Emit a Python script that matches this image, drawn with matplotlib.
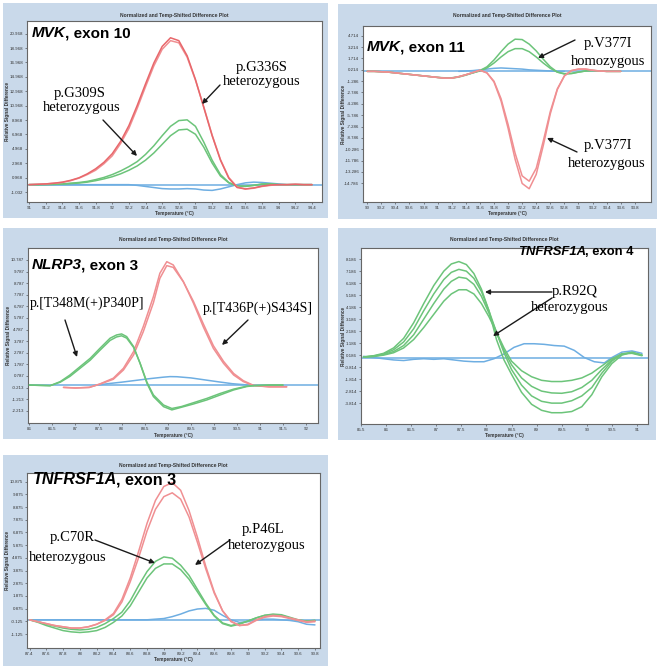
import matplotlib
matplotlib.use('Agg')
import matplotlib.pyplot as plt
from matplotlib.patches import Rectangle, FancyArrowPatch

# ---------------- data ----------------
# Panel 1: MVK exon 10
MVK10_T = [91.0, 91.1, 91.2, 91.3, 91.4, 91.5, 91.6, 91.7, 91.8, 91.9, 92.0, 92.1, 92.2, 92.3, 92.4, 92.5,
           92.6, 92.7, 92.8, 92.9, 93.0, 93.1, 93.2, 93.3, 93.4, 93.5, 93.6, 93.7, 93.8, 93.9, 94.0, 94.1,
           94.2, 94.3, 94.4]
MVK10_RED1 = [0.0, 0.05, 0.1, 0.2, 0.35, 0.6, 0.95, 1.5, 2.2, 3.1, 4.3, 6.0, 8.2, 11.0, 14.0, 16.9, 19.2, 20.4,
              20.0, 17.9, 14.6, 10.7, 6.8, 3.4, 0.9, -0.4, -0.6, -0.45, -0.2, -0.05, 0.0, 0.0, 0.05, 0.0, 0.0]
MVK10_RED2 = [0.0, 0.05, 0.1, 0.2, 0.3, 0.55, 0.9, 1.4, 2.0, 2.9, 4.0, 5.7, 7.8, 10.6, 13.6, 16.5, 18.8, 20.0,
              19.7, 17.7, 14.5, 10.8, 6.9, 3.5, 1.0, -0.3, -0.6, -0.5, -0.25, -0.1, 0.0, 0.0, 0.05, 0.0, 0.0]
MVK10_GREEN1 = [0.0, 0.0, 0.02, 0.05, 0.1, 0.2, 0.3, 0.45, 0.7, 1.0, 1.4, 1.9, 2.5, 3.2, 4.2, 5.4, 6.8, 8.1,
                8.9, 9.0, 8.1, 5.9, 3.4, 1.4, 0.3, -0.2, -0.2, -0.1, 0.1, 0.1, 0.0, 0.0, 0.0, 0.0, 0.0]
MVK10_GREEN2 = [0.0, 0.0, 0.02, 0.04, 0.08, 0.15, 0.22, 0.35, 0.55, 0.8, 1.1, 1.5, 2.0, 2.6, 3.4, 4.4, 5.6, 6.8,
                7.6, 7.7, 7.0, 5.2, 3.0, 1.2, 0.25, -0.2, -0.25, -0.1, 0.05, 0.1, 0.0, 0.0, 0.0, 0.0, 0.0]
MVK10_BLUE = [0.0, 0.0, 0.0, 0.0, 0.0, 0.0, 0.0, 0.0, 0.0, 0.0, 0.0, 0.0, 0.0, -0.1, -0.25, -0.4, -0.55, -0.6,
              -0.6, -0.55, -0.6, -0.75, -0.8, -0.6, -0.3, 0.0, 0.25, 0.35, 0.3, 0.2, 0.1, 0.0, 0.0, 0.0, 0.0]
MVK10_XTICKS = ['91', '91.2', '91.4', '91.6', '91.8', '92', '92.2', '92.4', '92.6', '92.8', '93', '93.2',
                '93.4', '93.6', '93.8', '94', '94.2', '94.4']
MVK10_YTICKS = ['20.968', '18.968', '16.968', '14.968', '12.968', '10.968', '8.968', '6.968', '4.968',
                '2.968', '0.968', '-1.032']

# Panel 2: MVK exon 11
MVK11_T = [90.0, 90.1, 90.2, 90.3, 90.4, 90.5, 90.6, 90.7, 90.8, 90.9, 91.0, 91.1, 91.2, 91.3, 91.4, 91.5,
           91.6, 91.7, 91.8, 91.9, 92.0, 92.1, 92.2, 92.3, 92.4, 92.5, 92.6, 92.7, 92.8, 92.9, 93.0, 93.1,
           93.2, 93.3, 93.4, 93.5, 93.6]
MVK11_GREEN1 = [0, 0, -0.05, -0.1, -0.2, -0.3, -0.4, -0.5, -0.6, -0.7, -0.8, -0.9, -0.9, -0.75, -0.5, -0.2,
                0.1, 0.6, 1.5, 2.6, 3.6, 4.25, 4.2, 3.6, 2.7, 1.6, 0.6, -0.1, -0.35, -0.3, -0.1, 0.05, 0.1,
                0.05, 0, 0, 0]
MVK11_GREEN2 = [0, 0, -0.05, -0.1, -0.2, -0.3, -0.4, -0.5, -0.6, -0.7, -0.8, -0.85, -0.85, -0.7, -0.45, -0.2,
                0.05, 0.45, 1.1, 1.9, 2.6, 3.0, 3.0, 2.6, 1.9, 1.1, 0.4, -0.1, -0.3, -0.25, -0.1, 0.05, 0.1,
                0.05, 0, 0, 0]
MVK11_RED1 = [0, 0, -0.05, -0.1, -0.2, -0.3, -0.4, -0.5, -0.6, -0.7, -0.8, -0.9, -0.9, -0.7, -0.45, -0.15,
              0.15, -0.2, -1.3, -3.6, -7.0, -10.8, -13.8, -14.5, -12.8, -9.2, -5.3, -2.3, -0.6, 0.1, 0.3, 0.3,
              0.15, 0.05, 0, 0, 0]
MVK11_RED2 = [0, 0, -0.05, -0.1, -0.2, -0.3, -0.4, -0.5, -0.6, -0.7, -0.8, -0.9, -0.9, -0.7, -0.45, -0.15,
              0.15, -0.2, -1.4, -3.9, -7.5, -11.6, -14.8, -15.5, -13.6, -9.8, -5.6, -2.4, -0.6, 0.1, 0.3, 0.3,
              0.15, 0.05, 0, 0, 0]
MVK11_BLUE_T = [91.3, 91.4, 91.5, 91.6, 91.7, 91.8, 91.9, 92.0, 92.1, 92.2, 92.3, 92.4, 92.5, 92.6, 92.7, 92.8]
MVK11_BLUE = [0, 0.05, 0.1, 0.2, 0.3, 0.4, 0.45, 0.4, 0.35, 0.3, 0.2, 0.15, 0.1, 0.05, 0, 0]
MVK11_XTICKS = ['90', '90.2', '90.4', '90.6', '90.8', '91', '91.2', '91.4', '91.6', '91.8', '92', '92.2',
                '92.4', '92.6', '92.8', '93', '93.2', '93.4', '93.6', '93.8']
MVK11_YTICKS = ['4.714', '3.214', '1.714', '0.214', '-1.286', '-2.786', '-4.286', '-5.786', '-7.286',
                '-8.786', '-10.286', '-11.786', '-13.286', '-14.786']

# Panel 3: NLRP3 exon 3
NLRP3_RED_T = [86.74, 87.0, 87.3, 87.53, 87.82, 88.04, 88.26, 88.47, 88.69, 88.83, 88.98, 89.12, 89.34,
               89.56, 89.77, 89.99, 90.21, 90.43, 90.64, 90.86, 91.2, 91.58]
NLRP3_RED1 = [-0.2, -0.25, -0.2, 0.10, 0.59, 1.45, 2.89, 5.04, 7.63, 9.64, 10.64, 10.36, 8.92, 7.05, 5.04,
              3.17, 1.88, 0.87, 0.30, -0.05, -0.15, -0.15]
NLRP3_RED2 = [-0.2, -0.25, -0.2, 0.08, 0.5, 1.3, 2.6, 4.6, 7.1, 9.2, 10.3, 10.15, 8.9, 7.2, 5.3, 3.4, 2.05,
              1.0, 0.38, -0.02, -0.15, -0.15]
NLRP3_GREEN_T = [86.0, 86.45, 86.67, 86.88, 87.10, 87.32, 87.53, 87.75, 87.89, 88.00, 88.11, 88.26, 88.40,
                 88.55, 88.69, 88.91, 89.09, 89.30, 89.56, 89.85, 90.14, 90.43, 90.71, 90.86, 91.2, 91.5]
NLRP3_GREEN1 = [0, -0.05, 0.30, 0.87, 1.59, 2.31, 3.17, 4.04, 4.32, 4.41, 4.18, 3.32, 1.88, 0.15, -0.99,
                -1.86, -2.14, -1.91, -1.63, -1.28, -0.85, -0.42, -0.13, -0.05, 0, 0]
NLRP3_GREEN2 = [0, -0.05, 0.25, 0.75, 1.45, 2.15, 3.0, 3.85, 4.15, 4.25, 4.05, 3.25, 1.9, 0.25, -0.85,
                -1.72, -2.02, -1.85, -1.52, -1.15, -0.72, -0.35, -0.1, -0.05, 0, 0]
NLRP3_BLUE_T = [87.39, 87.7, 88.0, 88.3, 88.6, 88.9, 89.05, 89.2, 89.5, 89.8, 90.1, 90.4, 90.7, 90.86]
NLRP3_BLUE = [-0.05, 0.12, 0.25, 0.4, 0.55, 0.68, 0.73, 0.72, 0.62, 0.45, 0.28, 0.12, 0.02, -0.05]
NLRP3_XTICKS = ['86', '86.5', '87', '87.5', '88', '88.5', '89', '89.5', '90', '90.5', '91', '91.5', '92']
NLRP3_YTICKS = ['10.787', '9.787', '8.787', '7.787', '6.787', '5.787', '4.787', '3.787', '2.787', '1.787',
                '0.787', '-0.213', '-1.213', '-2.213']

# Panel 4: TNFRSF1A exon 4
TNF4_T = [85.55, 85.75, 85.95, 86.15, 86.35, 86.55, 86.75, 86.95, 87.15, 87.3, 87.45, 87.6, 87.75, 87.9,
          88.05, 88.2, 88.35, 88.5, 88.7, 88.9, 89.1, 89.3, 89.5, 89.7, 89.9, 90.1, 90.3, 90.5, 90.7, 90.9, 91.1]
TNF4_GREEN1 = [0.05, 0.15, 0.35, 0.8, 1.6, 2.9, 4.5, 6.0, 7.2, 7.8, 8.0, 7.75, 7.0, 5.7, 3.9, 1.5, -0.2,
               -1.4, -2.9, -3.9, -4.4, -4.6, -4.6, -4.5, -4.1, -3.1, -1.6, -0.5, 0.2, 0.45, 0.2]
TNF4_GREEN2 = [0.05, 0.12, 0.3, 0.65, 1.3, 2.4, 3.9, 5.3, 6.5, 7.1, 7.35, 7.2, 6.6, 5.5, 3.9, 2.1, 0.4,
               -1.0, -2.3, -3.2, -3.65, -3.8, -3.8, -3.6, -3.2, -2.5, -1.3, -0.3, 0.3, 0.4, 0.2]
TNF4_GREEN3 = [0.05, 0.1, 0.25, 0.5, 1.0, 1.9, 3.2, 4.5, 5.7, 6.35, 6.7, 6.6, 6.1, 5.1, 3.7, 2.1, 0.6,
               -0.6, -1.7, -2.4, -2.8, -2.95, -2.98, -2.85, -2.5, -1.9, -1.0, -0.2, 0.3, 0.4, 0.2]
TNF4_GREEN4 = [0.05, 0.08, 0.2, 0.4, 0.8, 1.5, 2.5, 3.6, 4.7, 5.3, 5.65, 5.65, 5.3, 4.5, 3.4, 2.1, 0.8,
               -0.3, -1.1, -1.6, -1.9, -2.0, -2.0, -1.9, -1.7, -1.3, -0.7, -0.1, 0.3, 0.35, 0.15]
TNF4_BLUE_T = [85.55, 85.75, 85.95, 86.15, 86.35, 86.55, 86.75, 86.95, 87.15, 87.35, 87.55, 87.75, 87.95,
               88.15, 88.35, 88.55, 88.75, 88.95, 89.15, 89.35, 89.55, 89.75, 89.95, 90.15, 90.35, 90.5,
               90.7, 90.9, 91.1]
TNF4_BLUE = [0.1, 0.0, -0.1, -0.2, -0.25, -0.15, -0.1, -0.15, -0.1, -0.2, -0.3, -0.35, -0.35, -0.1, 0.3,
             0.85, 1.15, 1.15, 1.1, 1.0, 0.95, 0.6, 0.0, -0.35, -0.45, 0.0, 0.45, 0.55, 0.35]
TNF4_XTICKS = ['85.5', '86', '86.5', '87', '87.5', '88', '88.5', '89', '89.5', '90', '90.5', '91']
TNF4_YTICKS = ['8.186', '7.186', '6.186', '5.186', '4.186', '3.186', '2.186', '1.186', '0.186', '-0.814',
               '-1.814', '-2.814', '-3.814']

# Panel 5: TNFRSF1A exon 3
TNF3_T = [87.4, 87.5, 87.6, 87.7, 87.8, 87.9, 88.0, 88.1, 88.2, 88.3, 88.4, 88.5, 88.6, 88.7, 88.8, 88.9,
          89.0, 89.1, 89.2, 89.3, 89.4, 89.5, 89.6, 89.7, 89.8, 89.9, 90.0, 90.1, 90.2, 90.3, 90.4, 90.5,
          90.6, 90.7, 90.8]
TNF3_RED1 = [0.0, -0.15, -0.3, -0.45, -0.55, -0.65, -0.65, -0.55, -0.35, 0.0, 0.5, 1.6, 3.3, 5.4, 7.6, 9.4,
             10.5, 10.8, 10.2, 8.6, 6.5, 4.2, 2.2, 0.7, -0.15, -0.45, -0.35, 0.0, 0.25, 0.35, 0.3, 0.15, 0.0,
             -0.15, -0.1]
TNF3_RED2 = [0.0, -0.15, -0.3, -0.45, -0.55, -0.65, -0.65, -0.55, -0.35, -0.05, 0.4, 1.4, 3.0, 4.9, 7.0, 8.7,
             9.7, 10.0, 9.5, 8.1, 6.1, 4.0, 2.1, 0.7, -0.1, -0.45, -0.4, -0.05, 0.2, 0.3, 0.25, 0.1, -0.05,
             -0.2, -0.15]
TNF3_GREEN1 = [0.0, -0.15, -0.35, -0.5, -0.65, -0.75, -0.8, -0.75, -0.6, -0.3, 0.1, 0.6, 1.5, 2.7, 3.8, 4.6,
               4.95, 4.85, 4.3, 3.5, 2.4, 1.3, 0.35, -0.25, -0.45, -0.3, -0.1, 0.15, 0.35, 0.45, 0.4, 0.2,
               0.0, -0.1, -0.05]
TNF3_GREEN2 = [0.0, -0.2, -0.45, -0.65, -0.85, -0.95, -1.0, -0.95, -0.85, -0.6, -0.2, 0.3, 1.1, 2.2, 3.3,
               4.05, 4.4, 4.4, 3.95, 3.2, 2.2, 1.2, 0.3, -0.3, -0.5, -0.35, -0.1, 0.15, 0.35, 0.4, 0.35, 0.15,
               -0.05, -0.1, -0.05]
TNF3_BLUE = [0.0, 0.0, 0.0, 0.0, 0.0, 0.0, 0.0, 0.0, 0.0, 0.0, 0.0, 0.0, 0.0, 0.0, 0.0, 0.05, 0.1, 0.25, 0.45,
             0.7, 0.85, 0.9, 0.75, 0.35, 0.0, -0.2, -0.15, 0.0, 0.05, 0.05, 0.0, -0.05, -0.15, -0.35, -0.4]
TNF3_XTICKS = ['87.4', '87.6', '87.8', '88', '88.2', '88.4', '88.6', '88.8', '89', '89.2', '89.4', '89.6',
               '89.8', '90', '90.2', '90.4', '90.6', '90.8']
TNF3_YTICKS = ['10.875', '9.875', '8.875', '7.875', '6.875', '5.875', '4.875', '3.875', '2.875', '1.875',
               '0.875', '-0.125', '-1.125']

BASELINE = 0.0

# ---------------- styling ----------------
W, H = 662, 667
FRAME = '#c9d9ea'
RED = '#e8676b'
RED2 = '#f08f92'
GREEN = '#6cc47a'
BLUE = '#6eaee2'
SANS = ['Liberation Sans', 'DejaVu Sans']
SERIF = ['Liberation Serif', 'DejaVu Serif']

fig = plt.figure(figsize=(6.62, 6.67), dpi=100)
fig.patch.set_facecolor('white')


def fx(x):
    return x / W


def fy(y):
    return 1 - y / H


def panel(frame, box, xlim, ylim, xticks, yticks, title_y, xlabel_y, ylabel_x):
    l, t, r, b = frame
    fig.add_artist(Rectangle((fx(l), fy(b)), (r - l) / W, (b - t) / H, transform=fig.transFigure,
                             facecolor=FRAME, edgecolor='none', zorder=-5))
    bl, bt, br, bb = box
    ax = fig.add_axes([fx(bl), fy(bb), (br - bl) / W, (bb - bt) / H])
    ax.set_facecolor('white')
    ax.set_xlim(*xlim)
    ax.set_ylim(*ylim)
    ax.set_xticks([float(v) for v in xticks])
    ax.set_xticklabels(xticks)
    ax.set_yticks([float(v) for v in yticks])
    ax.set_yticklabels(yticks)
    ax.tick_params(axis='both', length=1.5, width=0.4, pad=1.2, labelsize=3.2, colors='#333333')
    for lab in ax.get_xticklabels() + ax.get_yticklabels():
        lab.set_family(SANS)
    for sp in ax.spines.values():
        sp.set_color('#666666')
        sp.set_linewidth(0.8)
    cx = (bl + br) / 2
    fig.text(fx(cx), fy(title_y), 'Normalized and Temp-Shifted Difference Plot', ha='center', va='center',
             fontsize=3.6, fontweight='bold', color='#333333', family=SANS)
    fig.text(fx(cx), fy(xlabel_y), 'Temperature (°C)', ha='center', va='center', fontsize=3.4,
             fontweight='bold', color='#333333', family=SANS)
    fig.text(fx(ylabel_x), fy((bt + bb) / 2), 'Relative Signal Difference', ha='center', va='center',
             rotation=90, fontsize=3.4, fontweight='bold', color='#333333', family=SANS)
    ax.axhline(BASELINE, color=BLUE, lw=1.1, zorder=2)
    return ax


def title(x, y, gene, rest, size):
    t1 = fig.text(fx(x), fy(y), gene, ha='left', va='center', fontsize=size, fontweight='bold',
                  style='italic', family=SANS, color='black', zorder=10)
    fig.canvas.draw()
    bb = t1.get_window_extent(renderer=fig.canvas.get_renderer())
    x2 = (bb.x1 - 0.12 * size) / (fig.dpi * fig.get_figwidth())
    fig.text(x2, fy(y), rest, ha='left', va='center', fontsize=size,
             fontweight='bold', family=SANS, color='black', zorder=10)


def label(x, y, s, size=10.5):
    fig.text(fx(x), fy(y), s, ha='center', va='center', fontsize=size, family=SERIF, color='black',
             zorder=10)


def arrow(x0, y0, x1, y1):
    fig.add_artist(FancyArrowPatch(
        (fx(x0), fy(y0)), (fx(x1), fy(y1)), transform=fig.transFigure, arrowstyle='-|>',
        mutation_scale=7, color='#1a1a1a', lw=1.0, shrinkA=0, shrinkB=0, zorder=10))


def curve(ax, x, y, color, lw=1.1):
    ax.plot(x, y, color=color, lw=lw, solid_joinstyle='round', solid_capstyle='round', zorder=3)


# Panel 1
ax1 = panel((3, 3, 328, 218), (27, 21, 322, 202), (90.976, 94.52), (-2.41, 22.73), MVK10_XTICKS,
            MVK10_YTICKS, 15, 213, 8)
curve(ax1, MVK10_T, MVK10_BLUE, BLUE)
curve(ax1, MVK10_T, MVK10_GREEN1, GREEN)
curve(ax1, MVK10_T, MVK10_GREEN2, GREEN)
curve(ax1, MVK10_T, MVK10_RED2, RED2)
curve(ax1, MVK10_T, MVK10_RED1, RED)

# Panel 2
ax2 = panel((338, 4, 657, 219), (363, 26, 651, 202), (89.94, 94.03), (-17.25, 5.99), MVK11_XTICKS,
            MVK11_YTICKS, 15, 213, 344)
curve(ax2, MVK11_BLUE_T, MVK11_BLUE, BLUE)
curve(ax2, MVK11_T, MVK11_GREEN1, GREEN)
curve(ax2, MVK11_T, MVK11_GREEN2, GREEN)
curve(ax2, MVK11_T, MVK11_RED1, RED2)
curve(ax2, MVK11_T, MVK11_RED2, RED2)

# Panel 3
ax3 = panel((3, 228, 328, 439), (28, 248, 318, 423), (85.97, 92.26), (-3.27, 11.82), NLRP3_XTICKS,
            NLRP3_YTICKS, 239, 436, 9)
curve(ax3, NLRP3_BLUE_T, NLRP3_BLUE, BLUE)
curve(ax3, NLRP3_RED_T, NLRP3_RED1, RED2)
curve(ax3, NLRP3_RED_T, NLRP3_RED2, RED2)
curve(ax3, NLRP3_GREEN_T, NLRP3_GREEN1, GREEN)
curve(ax3, NLRP3_GREEN_T, NLRP3_GREEN2, GREEN)

# Panel 4
ax4 = panel((338, 228, 656, 440), (361, 248, 648, 424), (85.5, 91.22), (-5.54, 9.13), TNF4_XTICKS,
            TNF4_YTICKS, 239, 435, 344)
curve(ax4, TNF4_BLUE_T, TNF4_BLUE, BLUE)
for g in (TNF4_GREEN1, TNF4_GREEN2, TNF4_GREEN3, TNF4_GREEN4):
    curve(ax4, TNF4_T, g, GREEN)

# Panel 5
ax5 = panel((3, 455, 328, 666), (27, 473, 320, 648), (87.37, 90.86), (-2.22, 11.56), TNF3_XTICKS,
            TNF3_YTICKS, 465, 660, 8)
curve(ax5, TNF3_T, TNF3_BLUE, BLUE)
curve(ax5, TNF3_T, TNF3_GREEN1, GREEN)
curve(ax5, TNF3_T, TNF3_GREEN2, GREEN)
curve(ax5, TNF3_T, TNF3_RED1, RED2)
curve(ax5, TNF3_T, TNF3_RED2, RED2)

# Titles
title(32, 33, 'MVK', ', exon 10', 11)
title(367, 47, 'MVK', ', exon 11', 11)
title(32, 265, 'NLRP3', ', exon 3', 11)
title(518, 252, 'TNFRSF1A', ', exon 4', 9.4)
title(33, 480, 'TNFRSF1A', ', exon 3', 11.6)

# Annotations
label(80, 93, 'p.G309S'); label(82, 108, 'heterozygous')
arrow(103, 120, 137, 156)
label(262, 67, 'p.G336S'); label(262, 82, 'heterozygous')
arrow(220, 85, 202, 104)

label(608, 43, 'p.V377I'); label(608, 62, 'homozygous')
arrow(575, 40, 538, 58)
label(608, 145, 'p.V377I'); label(607, 163, 'heterozygous')
arrow(577, 152, 547, 138)

label(87, 303, 'p.[T348M(+)P340P]', 10)
arrow(65, 320, 77, 357)
label(258, 308, 'p.[T436P(+)S434S]', 10)
arrow(248, 320, 222, 345)

label(575, 292, 'p.R92Q'); label(570, 307, 'heterozygous')
arrow(552, 292, 485, 292)
arrow(552, 298, 493, 336)

label(263, 530, 'p.P46L'); label(267, 545, 'heterozygous')
arrow(230, 540, 195, 565)
label(72, 538, 'p.C70R'); label(68, 557, 'heterozygous')
arrow(95, 540, 155, 563)

fig.savefig('out.png', dpi=100)
